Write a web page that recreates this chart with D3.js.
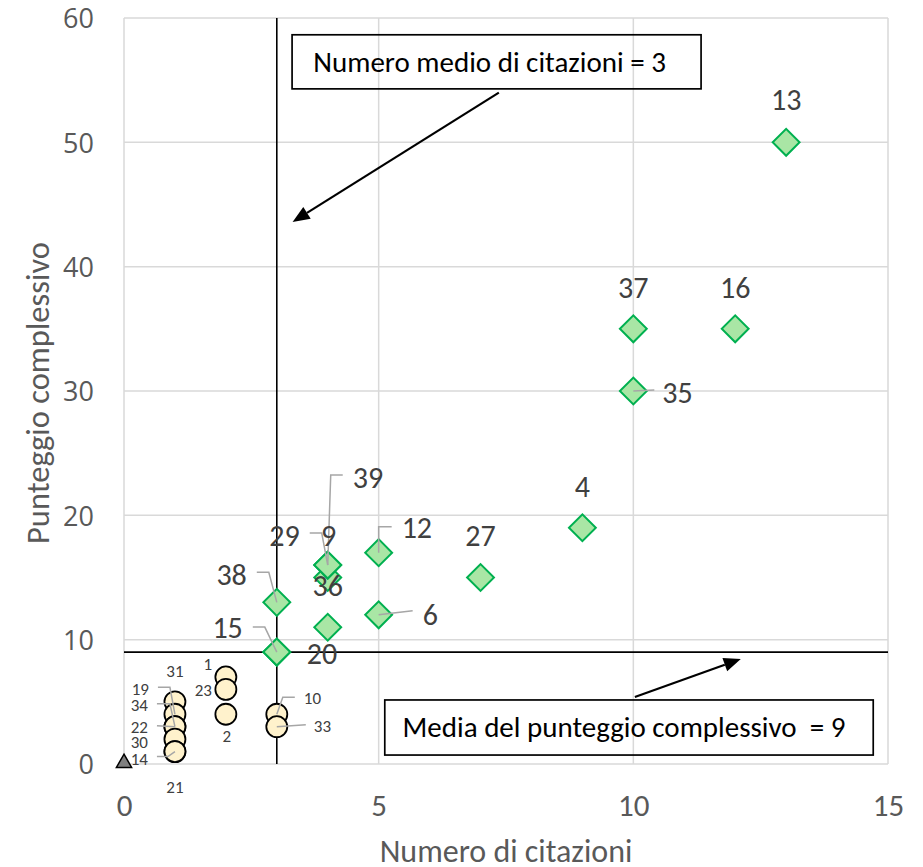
<!DOCTYPE html>
<html>
<head>
<meta charset="utf-8">
<script src="https://cdn.jsdelivr.net/npm/d3@7/dist/d3.min.js"></script>
<style>
  html, body { margin: 0; padding: 0; background: #fff; }
  svg { display: block; }
  text { font-family: Carlito, Lato, "Open Sans", sans-serif; }
</style>
</head>
<body>
<svg id="chart" width="923" height="867"></svg>
<script>
// ---------------- DATA ----------------
const xTicks = [0, 5, 10, 15];
const yTicks = [0, 10, 20, 30, 40, 50, 60];
const xTitle = "Numero di citazioni";
const yTitle = "Punteggio complessivo";

// Series: above both means (diamonds)
const highIds = ["13", "37", "16", "35", "4", "27", "12", "6", "9", "39", "29", "36", "38", "15", "20"];
const highX   = [13, 10, 12, 10, 9, 7, 5, 5, 4, 4, 4, 4, 3, 3, 3];
const highY   = [50, 35, 35, 30, 19, 15, 17, 12, 15, 16, 16, 11, 13, 9, 9];

// Series: below score mean (circles)
const lowIds = ["31", "19", "34", "22", "30", "14", "21", "1", "23", "2", "10", "33"];
const lowX   = [1, 1, 1, 1, 1, 1, 1, 2, 2, 2, 3, 3];
const lowY   = [5, 4, 3, 3, 2, 1, 1, 7, 6, 4, 4, 3];

// Series: zero citations (triangle)
const zeroX = [0];
const zeroY = [0];

// Means
const meanCitations = 3;
const meanScore = 9;
const noteCitations = "Numero medio di citazioni = 3";
const noteScore = "Media del punteggio complessivo  = 9";

// ---------------- LAYOUT (label placement, pixels relative to point) ----------------
const labelLayout = {
  "13": {dx: 0, dy: -43, a: "middle"},
  "37": {dx: 0, dy: -42, a: "middle"},
  "16": {dx: 0, dy: -42, a: "middle"},
  "35": {dx: 29, dy: 1, a: "start", leader: [[21, -1], [0, 0]]},
  "4":  {dx: 0, dy: -42, a: "middle"},
  "27": {dx: 0, dy: -42, a: "middle"},
  "12": {dx: 23, dy: -25, a: "start", leader: [[13, -26], [0, -26], [0, 0]]},
  "6":  {dx: 44, dy: -1, a: "start", leader: [[34, -4], [0, 0]]},
  "9":  {dx: 1, dy: -42, a: "middle"},
  "39": {dx: 25, dy: -88, a: "start", leader: [[15, -90], [3, -90], [0, 0]]},
  "29": {dx: -28, dy: -30, a: "end", leader: [[-18, -32], [-6, -32], [0, 0]]},
  "36": {dx: 0, dy: -42, a: "middle"},
  "38": {dx: -30, dy: -28, a: "end", leader: [[-20, -30], [-8, -30], [0, 0]]},
  "15": {dx: -34, dy: -25, a: "end", leader: [[-24, -25], [-12, -25], [0, 0]]},
  "20": {dx: 30, dy: 1, a: "start"},
  "31": {dx: 0, dy: -31, a: "middle"},
  "19": {dx: -26, dy: -25, a: "end", leader: [[-17, -27], [-5, -27], [0, 0]]},
  "34": {dx: -27, dy: -22, a: "end", leader: [[-18, -23], [-5, -23], [0, 0]]},
  "22": {dx: -27, dy: 0, a: "end", leader: [[-18, -1], [0, 0]]},
  "30": {dx: -27, dy: 3, a: "end"},
  "14": {dx: -27, dy: 7, a: "end", leader: [[-18, 5], [-7, 5], [0, 0]]},
  "21": {dx: 0, dy: 35, a: "middle"},
  "1":  {dx: -18, dy: -13, a: "middle"},
  "23": {dx: -14, dy: 0, a: "end"},
  "2":  {dx: 1, dy: 22, a: "middle"},
  "10": {dx: 27, dy: -16, a: "start", leader: [[18, -17], [6, -17], [0, 0]]},
  "33": {dx: 37, dy: -1, a: "start", leader: [[29, -2], [0, 0]]}
};

// ---------------- CHART ----------------
const svg = d3.select("#chart");
const x = d3.scaleLinear().domain([0, 15]).range([124, 888]);
const y = d3.scaleLinear().domain([0, 60]).range([764, 18]);

const gridColor = "#d9d9d9";
const tickColor = "#595959";
const labelColor = "#404040";
const bigLabel = 30;
const smallLabel = 17;

// gridlines
const grid = svg.append("g");
grid.selectAll("line.h").data(yTicks).join("line")
  .attr("x1", x(0)).attr("x2", x(15))
  .attr("y1", d => y(d)).attr("y2", d => y(d))
  .attr("stroke", gridColor).attr("stroke-width", 1.5);
grid.selectAll("line.v").data(xTicks).join("line")
  .attr("x1", d => x(d)).attr("x2", d => x(d))
  .attr("y1", y(0)).attr("y2", y(60))
  .attr("stroke", gridColor).attr("stroke-width", 1.5);

// axes (tick labels via d3 axes)
const xAxis = svg.append("g").attr("transform", `translate(0,${y(0)})`)
  .call(d3.axisBottom(x).tickValues(xTicks).tickSize(0).tickPadding(52).tickFormat(d3.format("d")));
xAxis.select(".domain").remove();
xAxis.selectAll("text").attr("fill", tickColor).style("font-size", "31px")
  .style("font-family", "Carlito, Lato, sans-serif").attr("dy", "0");

const yAxis = svg.append("g").attr("transform", `translate(${x(0)},0)`)
  .call(d3.axisLeft(y).tickValues(yTicks).tickSize(0).tickPadding(30).tickFormat(d3.format("d")));
yAxis.select(".domain").remove();
yAxis.selectAll("text").attr("fill", tickColor).style("font-size", "27px")
  .style("font-family", "'Open Sans', 'Noto Sans', sans-serif").attr("dy", "0.36em");

// axis titles
svg.append("text").attr("x", (x(0) + x(15)) / 2).attr("y", 862)
  .attr("text-anchor", "middle").attr("fill", tickColor)
  .style("font-size", "32px").text(xTitle);
svg.append("text").attr("transform", `translate(49,${(y(0) + y(60)) / 2 + 2}) rotate(-90)`)
  .attr("text-anchor", "middle").attr("fill", tickColor)
  .style("font-size", "32.5px").text(yTitle);

// mean lines
svg.append("line").attr("x1", x(meanCitations)).attr("x2", x(meanCitations))
  .attr("y1", y(60)).attr("y2", y(0)).attr("stroke", "#000").attr("stroke-width", 1.6);
svg.append("line").attr("x1", x(0)).attr("x2", x(15))
  .attr("y1", y(meanScore)).attr("y2", y(meanScore)).attr("stroke", "#000").attr("stroke-width", 1.6);

// build point tables
const highPts = highIds.map((id, i) => ({id, cx: x(highX[i]), cy: y(highY[i]), big: true}));
const lowPts = lowIds.map((id, i) => ({id, cx: x(lowX[i]), cy: y(lowY[i]), big: false}));
const zeroPts = zeroX.map((v, i) => ({cx: x(v), cy: y(zeroY[i])}));

// markers
const diamond = d3.symbol().type(d3.symbolSquare).size(19 * 19);
svg.append("g").selectAll("circle").data(lowPts).join("circle")
  .attr("cx", d => d.cx).attr("cy", d => d.cy).attr("r", 10.5)
  .attr("fill", "#fff2cc").attr("stroke", "#000").attr("stroke-width", 1.8);
svg.append("g").selectAll("path").data(highPts).join("path")
  .attr("d", diamond)
  .attr("transform", d => `translate(${d.cx},${d.cy}) rotate(45)`)
  .attr("fill", "#a9e6a5").attr("stroke", "#00b050").attr("stroke-width", 2);
const tri = d3.symbol().type(d3.symbolTriangle).size(100);
svg.append("g").selectAll("path").data(zeroPts).join("path")
  .attr("d", tri).attr("transform", d => `translate(${d.cx},${d.cy - 1})`)
  .attr("fill", "#808080").attr("stroke", "#000").attr("stroke-width", 1.5);

// leaders
const allPts = highPts.concat(lowPts);
const line = d3.line();
svg.append("g").selectAll("path").data(allPts.filter(d => labelLayout[d.id] && labelLayout[d.id].leader)).join("path")
  .attr("d", d => line(labelLayout[d.id].leader.map(p => [d.cx + p[0], d.cy + p[1]])))
  .attr("fill", "none").attr("stroke", "#a6a6a6").attr("stroke-width", 1.5);

// labels
svg.append("g").selectAll("text").data(allPts).join("text")
  .attr("x", d => d.cx + labelLayout[d.id].dx)
  .attr("y", d => d.cy + labelLayout[d.id].dy + (d.big ? bigLabel : smallLabel) * 0.36)
  .attr("text-anchor", d => labelLayout[d.id].a)
  .attr("fill", labelColor)
  .style("font-size", d => (d.big ? bigLabel : smallLabel) + "px")
  .text(d => d.id);

// annotations
function arrow(x1, y1, x2, y2) {
  const g = svg.append("g");
  const ang = Math.atan2(y2 - y1, x2 - x1);
  const L = 17, W = 7;
  const bx = x2 - L * Math.cos(ang), by = y2 - L * Math.sin(ang);
  g.append("line").attr("x1", x1).attr("y1", y1).attr("x2", bx).attr("y2", by)
    .attr("stroke", "#000").attr("stroke-width", 2.2);
  g.append("polygon").attr("points", [
    [x2, y2],
    [bx + W * Math.sin(ang), by - W * Math.cos(ang)],
    [bx - W * Math.sin(ang), by + W * Math.cos(ang)]
  ].map(p => p.join(",")).join(" ")).attr("fill", "#000");
}

// note 1 (data coords)
svg.append("rect").attr("x", x(3.3)).attr("y", y(58.65))
  .attr("width", x(11.33) - x(3.3)).attr("height", y(54.3) - y(58.65))
  .attr("fill", "none").attr("stroke", "#000").attr("stroke-width", 1.7);
svg.append("text").attr("x", (x(3.3) + x(11.33)) / 2 - 7).attr("y", 72)
  .attr("text-anchor", "middle").attr("fill", "#000").style("font-size", "29px")
  .text(noteCitations);
arrow(x(7.36), y(54.0), x(3.31), y(43.6));

// note 2
svg.append("rect").attr("x", x(5.12)).attr("y", y(5.15))
  .attr("width", x(14.71) - x(5.12)).attr("height", y(0.72) - y(5.15))
  .attr("fill", "none").attr("stroke", "#000").attr("stroke-width", 1.7);
svg.append("text").attr("x", (x(5.12) + x(14.71)) / 2 - 5).attr("y", 737)
  .attr("text-anchor", "middle").attr("fill", "#000").style("font-size", "29px")
  .attr("xml:space", "preserve").style("white-space", "pre")
  .text(noteScore);
arrow(x(10.03), y(5.39), x(12.11), y(8.45));
</script>
</body>
</html>
